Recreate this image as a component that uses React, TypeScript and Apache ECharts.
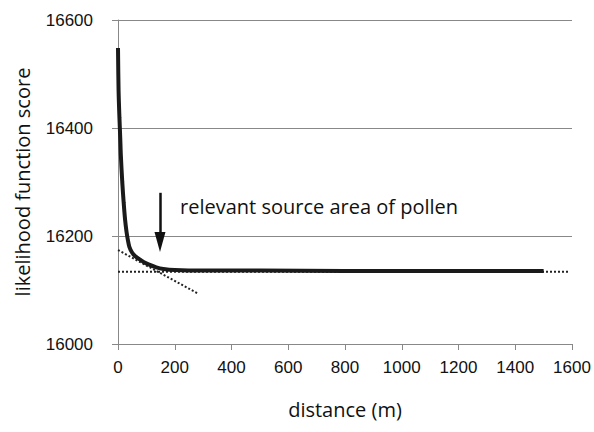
import React, { useEffect, useRef } from "react";
import * as echarts from "echarts";

const curveDistance = [0, 2, 5, 8, 10, 15, 20, 25, 30, 35, 40, 50, 60, 75, 90, 110, 135, 160, 200, 300, 500, 800, 1100, 1500];
const curveScore = [16548, 16470, 16420, 16380, 16350, 16300, 16262, 16230, 16208, 16192, 16180, 16169, 16163, 16157, 16152, 16147, 16142, 16139, 16137, 16136, 16136, 16135, 16135, 16135];
const plateauLine = [[0, 16134], [1590, 16134]];
const slopeLine = [[0, 16174], [280, 16094]];
const arrowFrom = [148, 16280];
const arrowTo = [148, 16189];
const annotation = "relevant source area of pollen";
const xTicks = [0, 200, 400, 600, 800, 1000, 1200, 1400, 1600];
const yTicks = [16000, 16200, 16400, 16600];

export default function App() {
  const ref = useRef<HTMLDivElement>(null);
  useEffect(() => {
    const chart = echarts.init(ref.current!, null, { renderer: "svg" });
    const tickFont = { fontFamily: "Liberation Sans", fontSize: 17, color: "#111" };
    chart.setOption({
      animation: false,
      backgroundColor: "#fff",
      grid: { left: 118, right: 22, top: 20, bottom: 88 },
      xAxis: {
        type: "value",
        min: xTicks[0],
        max: xTicks[xTicks.length - 1],
        interval: 200,
        name: "distance (m)",
        nameLocation: "middle",
        nameGap: 55,
        nameTextStyle: { fontFamily: "Open Sans", fontSize: 20, color: "#111" },
        axisLine: { show: true, lineStyle: { color: "#888", width: 1 } },
        axisTick: { show: true, length: 6, lineStyle: { color: "#888" } },
        axisLabel: { ...tickFont, margin: 15, formatter: (v: number) => String(v) },
        splitLine: { show: false },
      },
      yAxis: {
        type: "value",
        min: yTicks[0],
        max: yTicks[yTicks.length - 1],
        interval: 200,
        name: "likelihood function score",
        nameLocation: "middle",
        nameGap: 86,
        nameTextStyle: { fontFamily: "Open Sans", fontSize: 20, color: "#111" },
        axisLine: { show: true, lineStyle: { color: "#888", width: 1 } },
        axisTick: { show: true, length: 6, lineStyle: { color: "#888" } },
        axisLabel: { ...tickFont, margin: 25, formatter: (v: number) => String(v) },
        splitLine: { show: true, lineStyle: { color: "#888", width: 1 } },
      },
      graphic: [
        {
          type: "text",
          left: 180,
          top: 196,
          style: { text: annotation, fontFamily: "Open Sans", fontSize: 20, fill: "#111" },
        },
      ],
      series: [
        {
          type: "line",
          data: plateauLine,
          showSymbol: false,
          lineStyle: { color: "#222", width: 2, type: [2, 2] },
          z: 2,
        },
        {
          type: "line",
          data: slopeLine,
          showSymbol: false,
          lineStyle: { color: "#222", width: 2, type: [2, 2] },
          z: 2,
        },
        {
          type: "line",
          data: curveDistance.map((d, i) => [d, curveScore[i]]),
          showSymbol: false,
          smooth: 0.3,
          lineStyle: { color: "#1a1a1a", width: 4 },
          z: 3,
          markLine: {
            silent: true,
            symbol: ["none", "triangle"],
            symbolSize: [11, 20],
            label: { show: false },
            lineStyle: { color: "#111", width: 2.5, type: "solid" },
            data: [[{ coord: arrowFrom }, { coord: arrowTo }]],
          },
        },
      ],
    });
    return () => chart.dispose();
  }, []);
  return <div ref={ref} style={{ width: 594, height: 432, position: "absolute", left: 0, top: 0 }} />;
}
